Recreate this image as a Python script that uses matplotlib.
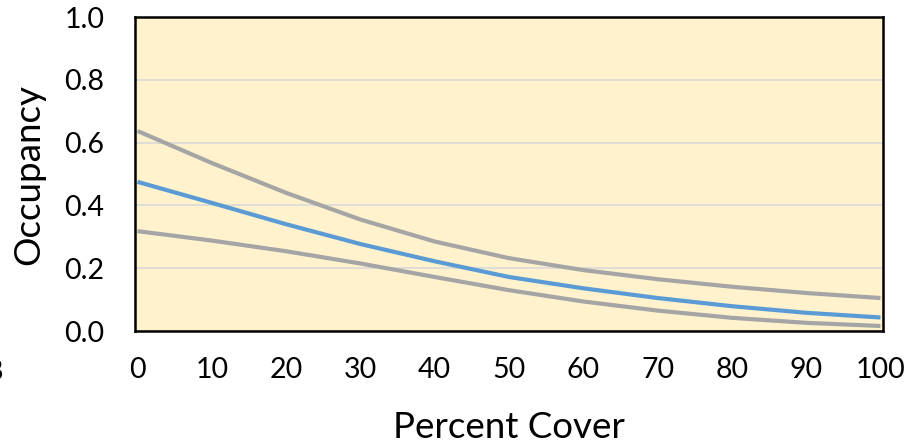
import matplotlib
matplotlib.use("Agg")
import matplotlib.pyplot as plt

percent_cover = [0, 10, 20, 30, 40, 50, 60, 70, 80, 90, 100]
occupancy_mean = [0.475, 0.408, 0.340, 0.277, 0.222, 0.172, 0.136, 0.105, 0.079, 0.058, 0.043]
occupancy_upper = [0.637, 0.535, 0.440, 0.355, 0.285, 0.232, 0.194, 0.165, 0.141, 0.121, 0.105]
occupancy_lower = [0.318, 0.288, 0.254, 0.215, 0.172, 0.130, 0.094, 0.065, 0.042, 0.026, 0.016]
x_ticks = [0, 10, 20, 30, 40, 50, 60, 70, 80, 90, 100]
y_ticks = [0.0, 0.2, 0.4, 0.6, 0.8, 1.0]

plt.rcParams['font.family'] = ['Lato', 'DejaVu Sans']

W, H = 922, 448
fig = plt.figure(figsize=(W / 100, H / 100), dpi=100)
ax = fig.add_axes([135 / W, 1 - 331 / H, (883 - 135) / W, (331 - 17) / H])
ax.set_facecolor('#FFF2CC')

gray = '#A5A5A5'
blue = '#5B9BD5'
ax.plot(percent_cover, occupancy_upper, color=gray, lw=3.0, solid_capstyle='butt', zorder=3)
ax.plot(percent_cover, occupancy_lower, color=gray, lw=3.0, solid_capstyle='butt', zorder=3)
ax.plot(percent_cover, occupancy_mean, color=blue, lw=3.0, solid_capstyle='butt', zorder=4)

ax.set_xlim(-0.34, 100.34)
ax.set_ylim(0, 1.0)
ax.set_xticks(x_ticks)
ax.set_yticks(y_ticks)
ax.set_xticklabels([str(v) for v in x_ticks])
ax.set_yticklabels([f"{v:.1f}" for v in y_ticks])
ax.tick_params(axis='both', length=0, labelsize=20.5, colors='black')
ax.tick_params(axis='y', pad=22)
ax.tick_params(axis='x', pad=19)

ax.grid(axis='y', color='#D9D9D9', lw=1.2, zorder=1)
ax.set_axisbelow(True)
for s in ax.spines.values():
    s.set_color('black')
    s.set_linewidth(1.8)

ax.set_xlabel('Percent Cover', fontsize=26.5, labelpad=20)
ax.set_ylabel('Occupancy', fontsize=26.5, labelpad=14)

fig.text(3 / W, 1 - 372 / H, '8', fontsize=20.5, ha='right', va='center')

fig.savefig('out.png', dpi=100)
